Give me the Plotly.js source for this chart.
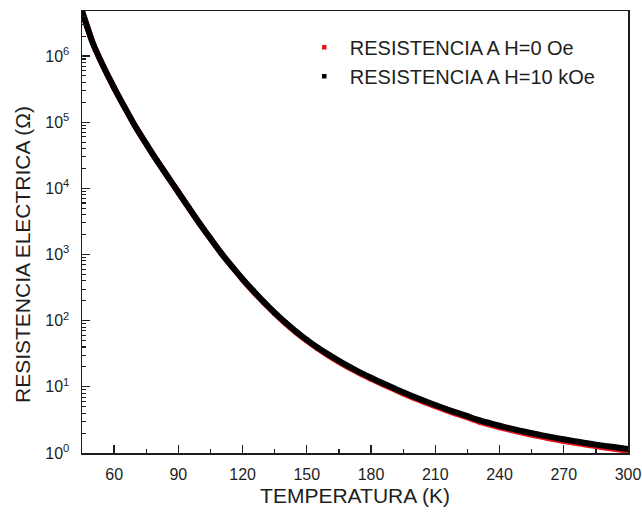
<!DOCTYPE html>
<html>
<head>
<meta charset="utf-8">
<script src="https://cdn.plot.ly/plotly-3.0.1.min.js"></script>
<style>
  html, body { margin: 0; padding: 0; background: #ffffff; }
  #chart { width: 642px; height: 515px; }
</style>
</head>
<body>
<div id="chart"></div>
<script>
// Temperature (K)
const temperatura = [
  45, 50, 55, 60, 65, 70, 75, 80, 85, 90,
  95, 100, 105, 110, 115, 120, 125, 130, 135, 140,
  145, 150, 155, 160, 165, 170, 175, 180, 185, 190,
  195, 200, 205, 210, 215, 220, 225, 230, 235, 240,
  245, 250, 255, 260, 265, 270, 275, 280, 285, 290,
  295, 300
];

// Electrical resistance (ohm), zero field
const resistenciaH0 = [
  4.79e6, 1.585e6, 6.92e5, 3.31e5, 1.66e5, 8.51e4, 4.68e4, 2.63e4, 1.51e4, 8710,
  5012, 2917, 1738, 1047, 661, 420, 277, 187, 129, 91.2,
  66.4, 49.8, 38.2, 29.9, 23.9, 19.3, 15.8, 13.2, 11.1, 9.40,
  7.96, 6.80, 5.86, 5.09, 4.43, 3.89, 3.44, 3.01, 2.71, 2.45,
  2.24, 2.05, 1.89, 1.75, 1.63, 1.52, 1.43, 1.34, 1.27, 1.20,
  1.14, 1.08
];

// Electrical resistance (ohm), H = 10 kOe
const resistenciaH10k = [
  4.79e6, 1.585e6, 6.92e5, 3.31e5, 1.66e5, 8.51e4, 4.68e4, 2.63e4, 1.51e4, 8710,
  5012, 2917, 1738, 1047, 661, 427, 282, 190.5, 131.8, 93.8,
  68.5, 51.4, 39.4, 30.9, 24.7, 20.0, 16.4, 13.7, 11.5, 9.77,
  8.28, 7.08, 6.11, 5.31, 4.63, 4.07, 3.60, 3.16, 2.85, 2.58,
  2.355, 2.16, 2.00, 1.85, 1.72, 1.61, 1.51, 1.42, 1.34, 1.27,
  1.21, 1.15
];

const seriesNames = ['RESISTENCIA A H=0 Oe', 'RESISTENCIA A H=10 kOe'];
const seriesColors = ['#e8141c', '#000000'];

// Axis ticks
const xTickVals = [60, 90, 120, 150, 180, 210, 240, 270, 300];
const xMinorVals = [75, 105, 135, 165, 195, 225, 255, 285];
const yExponents = [0, 1, 2, 3, 4, 5, 6];

const yTickVals = yExponents.map(e => Math.pow(10, e));
const yTickText = yExponents.map(e => '10<sup>' + e + '</sup>');
const yMinorVals = [];
yExponents.forEach(e => {
  for (let m = 2; m <= 9; m++) yMinorVals.push(m * Math.pow(10, e));
});

const font = 'Arial, "Liberation Sans", sans-serif';
const ink = '#1e1e1e';
const ys = [resistenciaH0, resistenciaH10k];

// each series: a thick curve, then its square markers on top (marker trace carries the legend)
const traces = [];
ys.forEach((y, i) => {
  traces.push({
    x: temperatura, y: y, type: 'scatter', mode: 'lines',
    line: { color: seriesColors[i], width: 6, shape: 'spline', smoothing: 0.6 },
    legendgroup: 'g' + i, showlegend: false, hoverinfo: 'skip'
  });
  traces.push({
    x: temperatura, y: y, type: 'scatter', mode: 'markers',
    name: seriesNames[i],
    marker: { symbol: 'square', size: 4.5, color: seriesColors[i] },
    legendgroup: 'g' + i
  });
});

const layout = {
  width: 642, height: 515,
  margin: { l: 82, r: 14, t: 11, b: 62 },
  paper_bgcolor: '#ffffff', plot_bgcolor: '#ffffff',
  font: { family: font, color: ink, size: 16 },
  showlegend: true,
  legend: {
    x: 0.397, y: 0.962, xanchor: 'left', yanchor: 'top',
    bgcolor: 'rgba(0,0,0,0)', borderwidth: 0,
    font: { family: font, size: 20, color: ink },
    itemwidth: 41, tracegroupgap: 0
  },
  xaxis: {
    range: [45, 300],
    tickmode: 'array', tickvals: xTickVals, ticktext: xTickVals.map(String),
    ticks: 'inside', ticklen: 8, tickwidth: 1.3, tickcolor: ink,
    minor: { tickmode: 'array', tickvals: xMinorVals, ticks: 'inside', ticklen: 4, tickwidth: 1.3, tickcolor: ink },
    showline: true, linecolor: ink, linewidth: 1.5, mirror: true,
    showgrid: false, zeroline: false,
    tickfont: { family: font, size: 16, color: ink },
    ticklabelstandoff: 6,
    title: { text: 'TEMPERATURA (K)', font: { family: font, size: 21, color: ink }, standoff: 6 }
  },
  yaxis: {
    type: 'log', range: [0, 6.68],
    tickmode: 'array', tickvals: yTickVals, ticktext: yTickText,
    ticks: 'inside', ticklen: 8, tickwidth: 1.3, tickcolor: ink,
    minor: { tickmode: 'array', tickvals: yMinorVals, ticks: 'inside', ticklen: 4, tickwidth: 1.1, tickcolor: ink },
    showline: true, linecolor: ink, linewidth: 1.5, mirror: true,
    showgrid: false, zeroline: false,
    tickfont: { family: font, size: 16, color: ink },
    ticklabelstandoff: 8
  },
  annotations: [{
    text: 'RESISTENCIA ELECTRICA (Ω)',
    xref: 'paper', yref: 'paper',
    x: -0.11, y: 0.45, xanchor: 'center', yanchor: 'middle',
    textangle: -90, showarrow: false,
    font: { family: font, size: 21, color: ink }
  }]
};

Plotly.newPlot('chart', traces, layout, { displayModeBar: false, staticPlot: true });
</script>
</body>
</html>
